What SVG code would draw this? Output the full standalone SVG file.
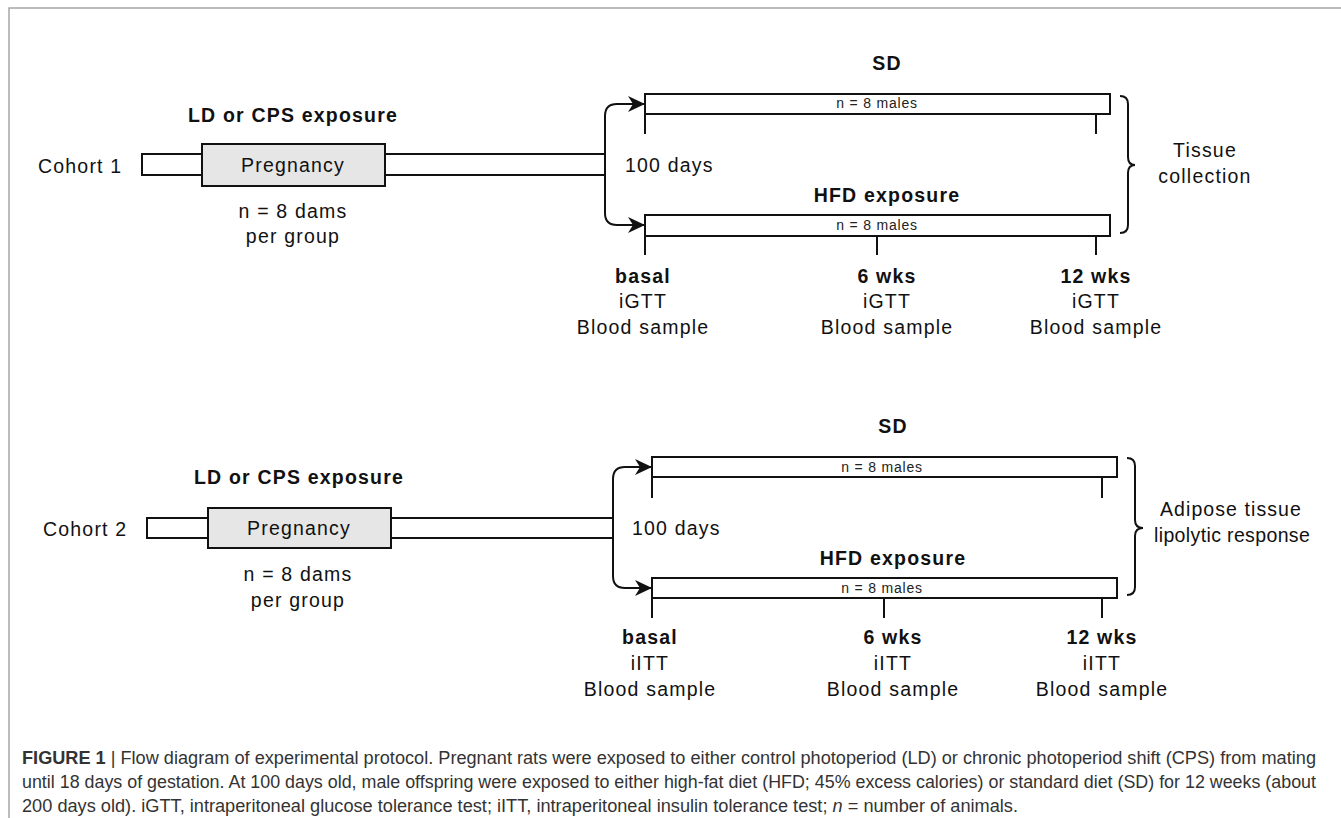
<svg xmlns="http://www.w3.org/2000/svg" width="1341" height="818" viewBox="0 0 1341 818">
<style>
.t{font-family:"Liberation Sans",Arial,sans-serif;font-size:19.5px;fill:#111;letter-spacing:1.2px}
.b{font-weight:bold}
.m{text-anchor:middle}
.s{font-family:"Liberation Sans",Arial,sans-serif;font-size:14px;fill:#222;letter-spacing:0.8px;text-anchor:middle}
.bar{fill:#fff;stroke:#111;stroke-width:2}
.box{fill:#e6e6e6;stroke:#111;stroke-width:2}
.ln{fill:none;stroke:#111;stroke-width:2}
.cap{font-family:"Liberation Sans",Arial,sans-serif;font-size:17.5px;fill:#333}
.frame{stroke:#a6a6a6;stroke-width:1.5;fill:none}
</style>
<defs>
<marker id="ah" markerUnits="userSpaceOnUse" markerWidth="18" markerHeight="16" refX="17" refY="8" orient="auto">
<path d="M0,0 L17,8 L0,16 L5,8 Z" fill="#111"/>
</marker>
</defs>
<rect width="1341" height="818" fill="#fff"/>
<path class="frame" d="M9,818 L9,8 L1341,8"/>

<!-- Cohort 1 -->
<g id="cohort1-label"><text class="t" x="38" y="173">Cohort 1</text></g>
<g id="c1-prebar"><rect class="bar" x="142" y="154" width="60" height="21"/></g>
<g id="c1-postbar"><rect class="bar" x="385" y="154" width="220" height="21"/></g>
<g id="c1-pregnancy"><rect class="box" x="202" y="144" width="183" height="42"/><text class="t m" x="293" y="172">Pregnancy</text></g>
<g id="c1-exposure"><text class="t b m" x="293" y="122">LD or CPS exposure</text></g>
<g id="c1-dams"><text class="t m" x="293" y="218">n = 8 dams</text><text class="t m" x="293" y="243">per group</text></g>
<g id="c1-days"><text class="t" x="625" y="172">100 days</text></g>
<g id="c1-sd">
<text class="t b m" x="887" y="70">SD</text>
<rect class="bar" x="645" y="94" width="465" height="20"/>
<text class="s" x="877" y="108">n = 8 males</text>
<path class="ln" d="M645,114 L645,134 M1096,114 L1096,134"/>
</g>
<g id="c1-hfd">
<text class="t b m" x="887" y="202">HFD exposure</text>
<rect class="bar" x="645" y="215" width="465" height="21"/>
<text class="s" x="877" y="230">n = 8 males</text>
<path class="ln" d="M645,236 L645,255 M877,236 L877,255 M1096,236 L1096,255"/>
</g>
<g id="c1-basal"><text class="t b m" x="643" y="283">basal</text><text class="t m" x="643" y="308">iGTT</text><text class="t m" x="643" y="334">Blood sample</text></g>
<g id="c1-6wks"><text class="t b m" x="887" y="283">6 wks</text><text class="t m" x="887" y="308">iGTT</text><text class="t m" x="887" y="334">Blood sample</text></g>
<g id="c1-12wks"><text class="t b m" x="1096" y="283">12 wks</text><text class="t m" x="1096" y="308">iGTT</text><text class="t m" x="1096" y="334">Blood sample</text></g>
<g id="c1-tissue">
<path class="ln" d="M1120,96 Q1128,96 1128,104 L1128,157 Q1128,165 1135,165 Q1128,165 1128,173 L1128,225 Q1128,233 1120,233"/>
<text class="t m" x="1205" y="157">Tissue</text><text class="t m" x="1205" y="183">collection</text>
</g>

<!-- Cohort 2 -->
<g id="cohort2-label"><text class="t" x="43" y="536">Cohort 2</text></g>
<g id="c2-prebar"><rect class="bar" x="147" y="518" width="61" height="20"/></g>
<g id="c2-postbar"><rect class="bar" x="391" y="518" width="222" height="20"/></g>
<g id="c2-pregnancy"><rect class="box" x="208" y="508" width="183" height="40"/><text class="t m" x="299" y="535">Pregnancy</text></g>
<g id="c2-exposure"><text class="t b m" x="299" y="484">LD or CPS exposure</text></g>
<g id="c2-dams"><text class="t m" x="298" y="581">n = 8 dams</text><text class="t m" x="298" y="607">per group</text></g>
<g id="c2-days"><text class="t" x="632" y="535">100 days</text></g>
<g id="c2-sd">
<text class="t b m" x="893" y="433">SD</text>
<rect class="bar" x="652" y="457" width="465" height="20"/>
<text class="s" x="882" y="472">n = 8 males</text>
<path class="ln" d="M652,477 L652,498 M1102,477 L1102,498"/>
</g>
<g id="c2-hfd">
<text class="t b m" x="893" y="565">HFD exposure</text>
<rect class="bar" x="652" y="578" width="465" height="20"/>
<text class="s" x="882" y="593">n = 8 males</text>
<path class="ln" d="M652,598 L652,618 M884,598 L884,618 M1102,598 L1102,618"/>
</g>
<g id="c2-basal"><text class="t b m" x="650" y="644">basal</text><text class="t m" x="650" y="670">iITT</text><text class="t m" x="650" y="696">Blood sample</text></g>
<g id="c2-6wks"><text class="t b m" x="893" y="644">6 wks</text><text class="t m" x="893" y="670">iITT</text><text class="t m" x="893" y="696">Blood sample</text></g>
<g id="c2-12wks"><text class="t b m" x="1102" y="644">12 wks</text><text class="t m" x="1102" y="670">iITT</text><text class="t m" x="1102" y="696">Blood sample</text></g>
<g id="c2-adipose">
<path class="ln" d="M1127,458 Q1135,458 1135,466 L1135,520 Q1135,528 1143,528 Q1135,528 1135,536 L1135,587 Q1135,595 1127,595"/>
<text class="t" x="1160" y="516" textLength="142" lengthAdjust="spacing">Adipose tissue</text>
<text class="t" x="1154" y="542" textLength="157" lengthAdjust="spacing">lipolytic response</text>
</g>

<g id="connectors">
<path class="ln" marker-end="url(#ah)" d="M605,165 L605,116 Q605,104 617,104 L645,104"/>
<path class="ln" marker-end="url(#ah)" d="M605,165 L605,213 Q605,225 617,225 L645,225"/>
<path class="ln" marker-end="url(#ah)" d="M613,528 L613,479 Q613,467 625,467 L652,467"/>
<path class="ln" marker-end="url(#ah)" d="M613,528 L613,576 Q613,588 625,588 L652,588"/>
</g>

<g id="caption">
<text class="cap" x="22" y="764" textLength="1294" lengthAdjust="spacingAndGlyphs"><tspan font-weight="bold">FIGURE 1</tspan> | Flow diagram of experimental protocol. Pregnant rats were exposed to either control photoperiod (LD) or chronic photoperiod shift (CPS) from mating</text>
<text class="cap" x="22" y="788" textLength="1294" lengthAdjust="spacingAndGlyphs">until 18 days of gestation. At 100 days old, male offspring were exposed to either high-fat diet (HFD; 45% excess calories) or standard diet (SD) for 12 weeks (about</text>
<text class="cap" x="22" y="812" textLength="996" lengthAdjust="spacingAndGlyphs">200 days old). iGTT, intraperitoneal glucose tolerance test; iITT, intraperitoneal insulin tolerance test; <tspan font-style="italic">n</tspan> = number of animals.</text>
</g>
</svg>
